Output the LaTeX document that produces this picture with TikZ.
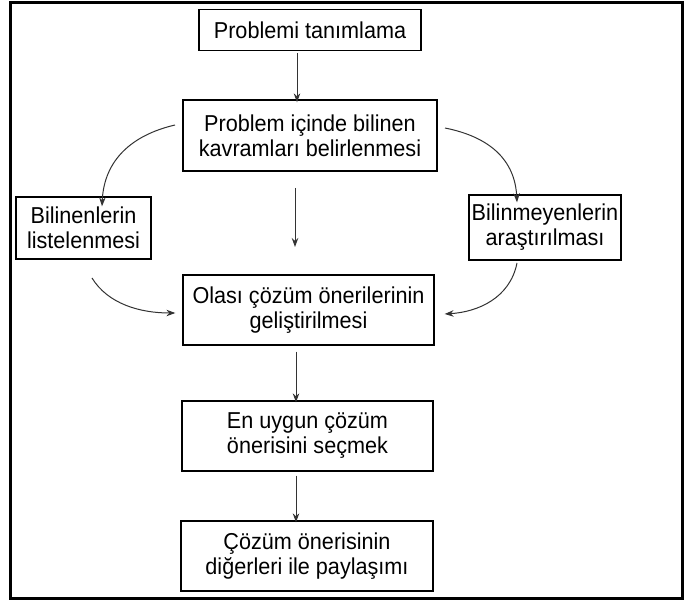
\documentclass[tikz,border=0pt]{standalone}
\usepackage{fontspec}
\setmainfont[FakeStretch=0.94]{Liberation Sans}
\usetikzlibrary{arrows.meta}
\begin{document}
\begin{tikzpicture}[x=1pt,y=-1pt,
  box/.style={draw=black,line width=1.3pt,rectangle,inner sep=0pt,align=center,
    font=\fontsize{23}{25}\selectfont},
  conn/.style={draw=black!80,line width=1pt,-{Stealth[length=9pt,width=6.5pt]}},
  frameline/.style={line width=3pt,black}]
\useasboundingbox (0,0) rectangle (685,601);
\draw[frameline] (682,3) -- (10,3) -- (10,598) -- (682,598) -- cycle;
\node[box,minimum width=222pt,minimum height=41pt] (b1) at (310,30) {Problemi tanımlama};
\node[box,minimum width=254pt,minimum height=71pt] (b2) at (310,135.5) {Problem içinde bilinen\\ kavramları belirlenmesi};
\node[box,minimum width=135pt,minimum height=62pt] (bl) at (83.5,228) {Bilinenlerin\\listelenmesi};
\node[box,minimum width=152pt,minimum height=65pt] (br) at (545,227.5) {Bilinmeyenlerin\\araştırılması};
\node[box,minimum width=251pt,minimum height=70pt] (b3) at (308.5,310) {Olası çözüm önerilerinin\\geliştirilmesi};
\node[box,minimum width=251pt,minimum height=70pt] (b4) at (307.5,436) {En uygun çözüm\\önerisini seçmek};
\node[box,minimum width=252pt,minimum height=70pt] (b5) at (307,556) {Çözüm önerisinin\\diğerleri ile paylaşımı};
\coordinate (ctop) at (295,188);
\coordinate (cbot) at (295,247);
\coordinate (lstart) at (175,125);
\coordinate (rstart) at (445,128);
\coordinate (lbstart) at (92,278);
\coordinate (rbstart) at (517,263);
\draw[conn] (b1.south -| 297,0) ++(0,2) -- ([yshift=-3pt]b2.north -| 297,0);
\draw[conn] (ctop) -- (cbot);
\draw[conn] (lstart) .. controls (132,135) and (104,160) .. ([yshift=-10pt]bl.north -| 102,0);
\draw[conn] (rstart) .. controls (490,137) and (515,160) .. ([yshift=-8pt]br.north -| 517,0);
\draw[conn] (lbstart) .. controls (108,304) and (140,313) .. ([xshift=-7pt]b3.west |- 0,313);
\draw[conn] (rbstart) .. controls (510,298) and (478,312) .. ([xshift=10pt]b3.east |- 0,314);
\draw[conn] (b3.south -| 296,0) ++(0,6) -- ([yshift=-2pt]b4.north -| 296,0);
\draw[conn] (b4.south -| 296,0) ++(0,4) -- ([yshift=-2pt]b5.north -| 296,0);
\end{tikzpicture}
\end{document}
